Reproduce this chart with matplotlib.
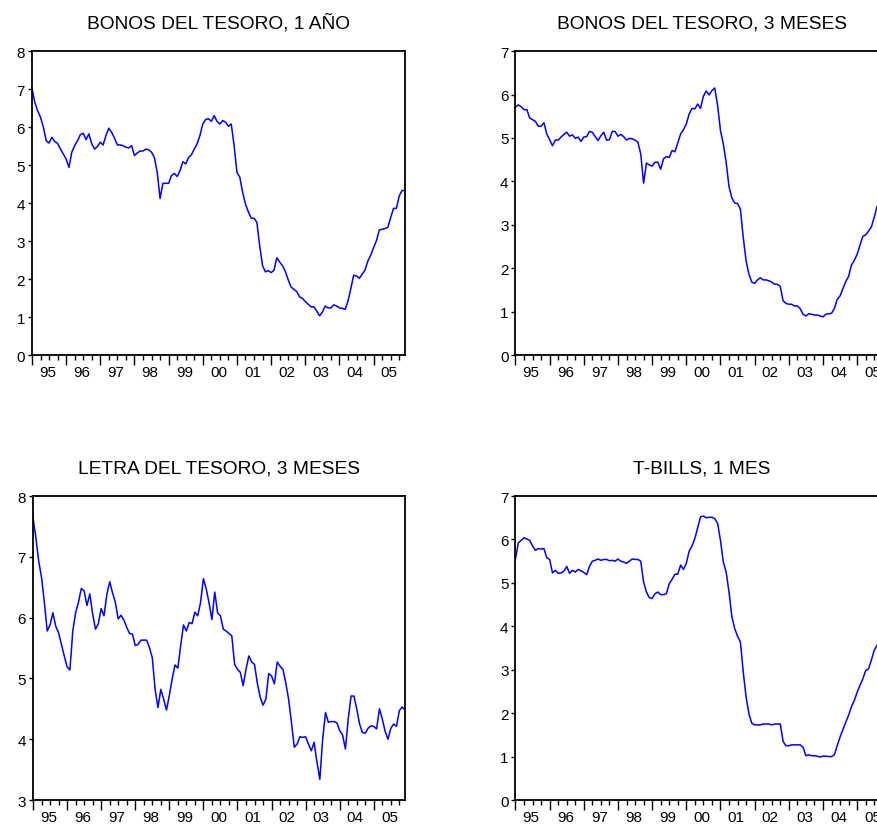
import numpy as np
import matplotlib
matplotlib.use("Agg")
import matplotlib.pyplot as plt

plt.rcParams['font.family'] = ['Liberation Sans', 'DejaVu Sans']

# monthly observations, 1995:01 - 2005:12
years = ['95', '96', '97', '98', '99', '00', '01', '02', '03', '04', '05']

bonos_1a = [
    7.02, 6.65, 6.43, 6.26, 6.00, 5.64, 5.58, 5.73, 5.62, 5.57, 5.42, 5.29,
    5.16, 4.94, 5.34, 5.51, 5.64, 5.80, 5.84, 5.67, 5.82, 5.56, 5.42, 5.49,
    5.60, 5.53, 5.78, 5.97, 5.86, 5.71, 5.53, 5.53, 5.51, 5.47, 5.45, 5.51,
    5.25, 5.32, 5.37, 5.37, 5.42, 5.40, 5.34, 5.20, 4.81, 4.12, 4.52, 4.52,
    4.52, 4.72, 4.78, 4.70, 4.85, 5.09, 5.03, 5.20, 5.27, 5.42, 5.56, 5.78,
    6.08, 6.20, 6.22, 6.15, 6.30, 6.15, 6.08, 6.17, 6.13, 6.02, 6.08, 5.51,
    4.81, 4.68, 4.28, 3.97, 3.77, 3.60, 3.60, 3.49, 2.87, 2.35, 2.19, 2.22,
    2.17, 2.23, 2.56, 2.45, 2.35, 2.20, 1.98, 1.79, 1.73, 1.67, 1.53, 1.49,
    1.41, 1.34, 1.27, 1.27, 1.16, 1.03, 1.13, 1.29, 1.24, 1.24, 1.32, 1.29,
    1.24, 1.23, 1.20, 1.42, 1.75, 2.10, 2.08, 2.02, 2.13, 2.24, 2.48, 2.63,
    2.83, 3.01, 3.29, 3.31, 3.33, 3.36, 3.62, 3.86, 3.86, 4.19, 4.33, 4.33,
]

bonos_3m = [
    5.71, 5.76, 5.72, 5.65, 5.65, 5.46, 5.42, 5.38, 5.27, 5.27, 5.35, 5.09,
    4.96, 4.82, 4.95, 4.95, 5.02, 5.08, 5.13, 5.04, 5.07, 4.99, 5.02, 4.92,
    5.02, 5.03, 5.15, 5.13, 5.03, 4.94, 5.05, 5.13, 4.95, 4.96, 5.15, 5.15,
    5.04, 5.08, 5.03, 4.95, 4.99, 4.98, 4.95, 4.90, 4.63, 3.96, 4.42, 4.38,
    4.35, 4.44, 4.44, 4.28, 4.52, 4.57, 4.55, 4.71, 4.68, 4.88, 5.09, 5.19,
    5.32, 5.55, 5.68, 5.67, 5.78, 5.68, 5.96, 6.08, 5.99, 6.09, 6.15, 5.75,
    5.17, 4.86, 4.44, 3.88, 3.62, 3.50, 3.49, 3.36, 2.71, 2.17, 1.86, 1.68,
    1.65, 1.73, 1.78, 1.73, 1.73, 1.71, 1.68, 1.63, 1.63, 1.58, 1.25, 1.19,
    1.17, 1.17, 1.13, 1.13, 1.07, 0.94, 0.90, 0.95, 0.94, 0.92, 0.92, 0.90,
    0.88, 0.94, 0.95, 0.96, 1.07, 1.28, 1.36, 1.53, 1.69, 1.81, 2.07, 2.18,
    2.32, 2.53, 2.73, 2.77, 2.85, 2.95, 3.17, 3.42, 3.42, 3.55, 3.75, 3.88,
]

letra_3m = [
    7.64, 7.32, 6.93, 6.66, 6.25, 5.78, 5.88, 6.08, 5.86, 5.75, 5.56, 5.37,
    5.19, 5.14, 5.78, 6.08, 6.25, 6.48, 6.44, 6.20, 6.39, 6.06, 5.81, 5.90,
    6.15, 6.03, 6.38, 6.59, 6.41, 6.25, 5.98, 6.04, 5.96, 5.84, 5.74, 5.73,
    5.54, 5.56, 5.63, 5.63, 5.63, 5.51, 5.34, 4.82, 4.52, 4.82, 4.66, 4.48,
    4.72, 4.99, 5.22, 5.17, 5.54, 5.88, 5.78, 5.92, 5.90, 6.09, 6.03, 6.25,
    6.64, 6.47, 6.24, 5.97, 6.42, 6.08, 6.03, 5.81, 5.78, 5.74, 5.70, 5.23,
    5.15, 5.10, 4.88, 5.15, 5.37, 5.27, 5.23, 4.92, 4.69, 4.56, 4.66, 5.08,
    5.04, 4.91, 5.27, 5.20, 5.15, 4.93, 4.66, 4.28, 3.87, 3.92, 4.04, 4.03,
    4.04, 3.92, 3.81, 3.95, 3.62, 3.34, 4.00, 4.44, 4.28, 4.29, 4.29, 4.27,
    4.14, 4.07, 3.84, 4.33, 4.71, 4.71, 4.50, 4.25, 4.11, 4.10, 4.18, 4.22,
    4.21, 4.17, 4.50, 4.33, 4.13, 4.00, 4.18, 4.25, 4.21, 4.47, 4.53, 4.48,
]

tbills_1m = [
    5.56, 5.92, 5.98, 6.04, 6.01, 5.98, 5.85, 5.75, 5.79, 5.78, 5.79, 5.58,
    5.54, 5.23, 5.29, 5.22, 5.23, 5.27, 5.38, 5.22, 5.29, 5.25, 5.31, 5.28,
    5.24, 5.19, 5.38, 5.50, 5.52, 5.55, 5.52, 5.54, 5.54, 5.51, 5.52, 5.50,
    5.55, 5.50, 5.48, 5.45, 5.50, 5.55, 5.54, 5.54, 5.50, 5.02, 4.79, 4.66,
    4.64, 4.75, 4.79, 4.73, 4.73, 4.75, 4.98, 5.08, 5.20, 5.20, 5.41, 5.31,
    5.45, 5.73, 5.85, 6.02, 6.27, 6.52, 6.54, 6.50, 6.51, 6.51, 6.48, 6.37,
    5.98, 5.48, 5.25, 4.79, 4.22, 3.95, 3.77, 3.64, 2.95, 2.37, 1.98, 1.77,
    1.73, 1.73, 1.73, 1.75, 1.75, 1.75, 1.73, 1.75, 1.75, 1.75, 1.35, 1.25,
    1.25, 1.27, 1.27, 1.27, 1.27, 1.22, 1.02, 1.04, 1.02, 1.02, 1.01, 0.99,
    1.01, 1.01, 1.00, 1.00, 1.04, 1.25, 1.45, 1.62, 1.79, 1.95, 2.15, 2.29,
    2.48, 2.64, 2.79, 2.98, 3.02, 3.22, 3.45, 3.56, 3.64, 3.75, 3.85, 3.95,
]

panels = [
    ('BONOS DEL TESORO, 1 AÑO', bonos_1a, (0, 8), [0.0364, 0.570, 0.4248, 0.3671]),
    ('BONOS DEL TESORO, 3 MESES', bonos_3m, (0, 7), [0.5871, 0.570, 0.4248, 0.3671]),
    ('LETRA DEL TESORO, 3 MESES', letra_3m, (3, 8), [0.0376, 0.0326, 0.4237, 0.3671]),
    ('T-BILLS, 1 MES', tbills_1m, (0, 7), [0.5871, 0.0326, 0.4248, 0.3671]),
]

fig = plt.figure(figsize=(8.78, 8.28), dpi=100)

for title, values, (ymin, ymax), rect in panels:
    ax = fig.add_axes(rect)
    months = np.arange(len(values))
    ax.plot(months, values, color='#0000ff', linewidth=1.1)

    ax.set_xlim(0, len(values) - 1)
    ax.set_ylim(ymin, ymax)
    ax.set_title(title, fontsize=13.8, pad=17)

    # year starts as long ticks, quarters as short ones
    year_starts = np.arange(0, len(values), 12)
    quarters = [q for q in np.arange(0, len(values), 3) if q % 12 != 0]
    ax.set_xticks(year_starts)
    ax.set_xticklabels([])
    ax.set_xticks(quarters, minor=True)
    ax.tick_params(axis='x', which='major', direction='out', length=7, width=1.0)
    ax.tick_params(axis='x', which='minor', direction='out', length=3.5, width=1.0)
    for start, label in zip(year_starts, years):
        ax.text(start + 5.5, -0.032, label, transform=ax.get_xaxis_transform(),
                ha='center', va='top', fontsize=11)

    ax.set_yticks(np.arange(ymin, ymax + 1))
    ax.tick_params(axis='y', direction='out', length=3, width=1.0, labelsize=11, pad=2)

    for side in ax.spines.values():
        side.set_linewidth(1.3)

plt.savefig('out.png', dpi=100)
